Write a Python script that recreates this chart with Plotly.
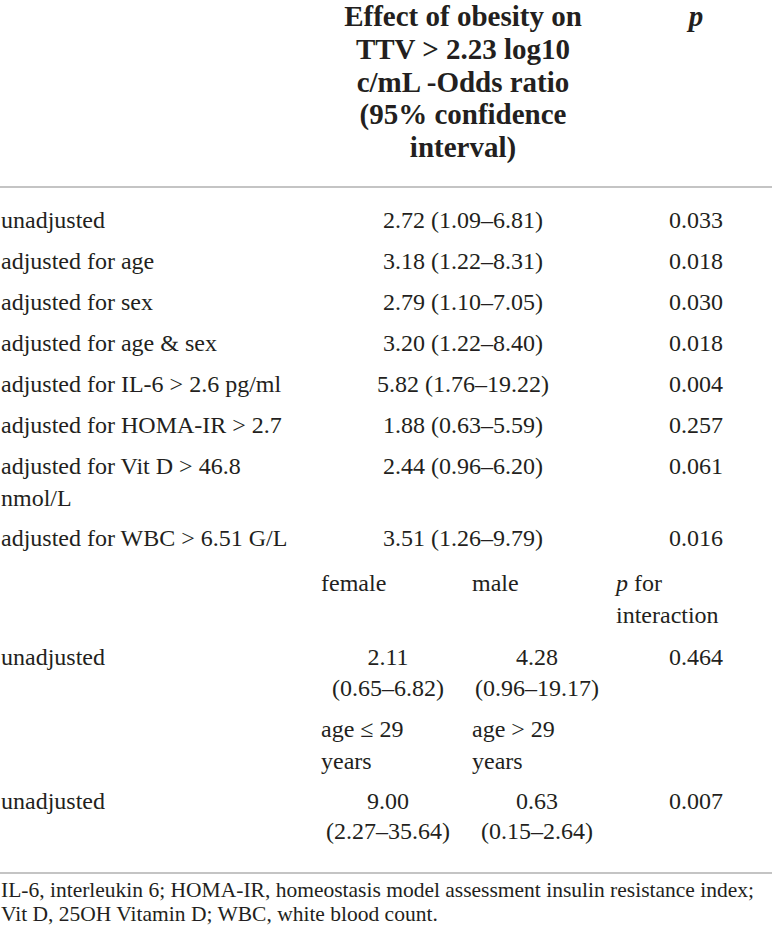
import plotly.graph_objects as go

# main table
labels = [
    "unadjusted",
    "adjusted for age",
    "adjusted for sex",
    "adjusted for age & sex",
    "adjusted for IL-6 > 2.6 pg/ml",
    "adjusted for HOMA-IR > 2.7",
    "adjusted for Vit D > 46.8",
    "adjusted for WBC > 6.51 G/L",
]
odds_ratio = [2.72, 3.18, 2.79, 3.20, 5.82, 1.88, 2.44, 3.51]
ci_low = [1.09, 1.22, 1.10, 1.22, 1.76, 0.63, 0.96, 1.26]
ci_high = [6.81, 8.31, 7.05, 8.40, 19.22, 5.59, 6.20, 9.79]
p_values = ["0.033", "0.018", "0.030", "0.018", "0.004", "0.257", "0.061", "0.016"]

header_lines = [
    "Effect of obesity on",
    "TTV > 2.23 log10",
    "c/mL -Odds ratio",
    "(95% confidence",
    "interval)",
]

# stratified analyses
sex_groups = ["female", "male"]
sex_or = [2.11, 4.28]
sex_low = [0.65, 0.96]
sex_high = [6.82, 19.17]
sex_p = "0.464"

age_groups = [["age ≤ 29", "years"], ["age > 29", "years"]]
age_or = [9.00, 0.63]
age_low = [2.27, 0.15]
age_high = [35.64, 2.64]
age_p = "0.007"

footnote = [
    "IL-6, interleukin 6; HOMA-IR, homeostasis model assessment insulin resistance index;",
    "Vit D, 25OH Vitamin D; WBC, white blood count.",
]

# layout (pixels)
W, H = 772, 937
FONT = "Liberation Serif"
INK = "#231f20"
RULE = "#c4c4c4"
X_LABEL = 1
X_OR = 463
X_P = 696
X_COL1, X_COL1_C = 321, 388
X_COL2, X_COL2_C = 472, 537
X_PINT = 616

header_y = [19, 52, 85, 117, 150]
row_y = [222, 263, 304, 345, 386, 427, 468, 540]
vitd_wrap_y = 500
sex_head_y, sex_head2_y, sex_row_y, sex_ci_y = 585, 617, 659, 690
age_head_y, age_head2_y, age_row_y, age_ci_y = 731, 763, 803, 833
rule_y = [187, 873]
foot_y = [892, 916]

BODY = 24
HEAD = 29
FOOT = 21.5


def ci(o, lo, hi):
    return f"{o:.2f} ({lo:.2f}–{hi:.2f})"


def text_trace(xs, ys, texts, pos, size=BODY):
    return go.Scatter(
        x=xs, y=ys, text=texts, mode="text", textposition=pos,
        textfont=dict(family=FONT, size=size, color=INK),
        hoverinfo="skip", showlegend=False, cliponaxis=False,
    )


fig = go.Figure()

# header
fig.add_trace(text_trace([X_OR] * len(header_lines), header_y,
                         [f"<b>{t}</b>" for t in header_lines], "middle center", HEAD))
fig.add_trace(text_trace([X_P], [header_y[0]], ["<b><i>p</i></b>"], "middle center", HEAD))

# main rows
fig.add_trace(text_trace([X_LABEL] * len(labels) + [X_LABEL], row_y + [vitd_wrap_y],
                         labels + ["nmol/L"], "middle right"))
fig.add_trace(text_trace([X_OR] * len(labels), row_y,
                         [ci(o, l, h) for o, l, h in zip(odds_ratio, ci_low, ci_high)],
                         "middle center"))
fig.add_trace(text_trace([X_P] * len(labels), row_y, p_values, "middle center"))

# sex stratification
fig.add_trace(text_trace([X_COL1, X_COL2, X_PINT, X_PINT],
                         [sex_head_y, sex_head_y, sex_head_y, sex_head2_y],
                         sex_groups + ["<i>p</i> for", "interaction"], "middle right"))
fig.add_trace(text_trace([X_LABEL], [sex_row_y], ["unadjusted"], "middle right"))
fig.add_trace(text_trace([X_COL1_C, X_COL2_C, X_COL1_C, X_COL2_C, X_P],
                         [sex_row_y, sex_row_y, sex_ci_y, sex_ci_y, sex_row_y],
                         [f"{v:.2f}" for v in sex_or]
                         + [f"({l:.2f}–{h:.2f})" for l, h in zip(sex_low, sex_high)]
                         + [sex_p], "middle center"))

# age stratification
fig.add_trace(text_trace([X_COL1, X_COL1, X_COL2, X_COL2],
                         [age_head_y, age_head2_y, age_head_y, age_head2_y],
                         age_groups[0] + age_groups[1], "middle right"))
fig.add_trace(text_trace([X_LABEL], [age_row_y], ["unadjusted"], "middle right"))
fig.add_trace(text_trace([X_COL1_C, X_COL2_C, X_COL1_C, X_COL2_C, X_P],
                         [age_row_y, age_row_y, age_ci_y, age_ci_y, age_row_y],
                         [f"{v:.2f}" for v in age_or]
                         + [f"({l:.2f}–{h:.2f})" for l, h in zip(age_low, age_high)]
                         + [age_p], "middle center"))

# footnote
fig.add_trace(text_trace([X_LABEL, X_LABEL], foot_y, footnote, "middle right", FOOT))

for y in rule_y:
    fig.add_shape(type="line", x0=0, x1=W, y0=y, y1=y, xref="x", yref="y",
                  line=dict(color=RULE, width=2))

fig.update_layout(
    width=W, height=H,
    margin=dict(l=0, r=0, t=0, b=0),
    plot_bgcolor="white", paper_bgcolor="white",
    xaxis=dict(range=[0, W], visible=False, fixedrange=True),
    yaxis=dict(range=[H, 0], visible=False, fixedrange=True),
)
fig.write_html(
    "out.html",
    config={"displayModeBar": False},
    post_script="document.body.style.margin='0';document.body.style.overflow='hidden';",
)
